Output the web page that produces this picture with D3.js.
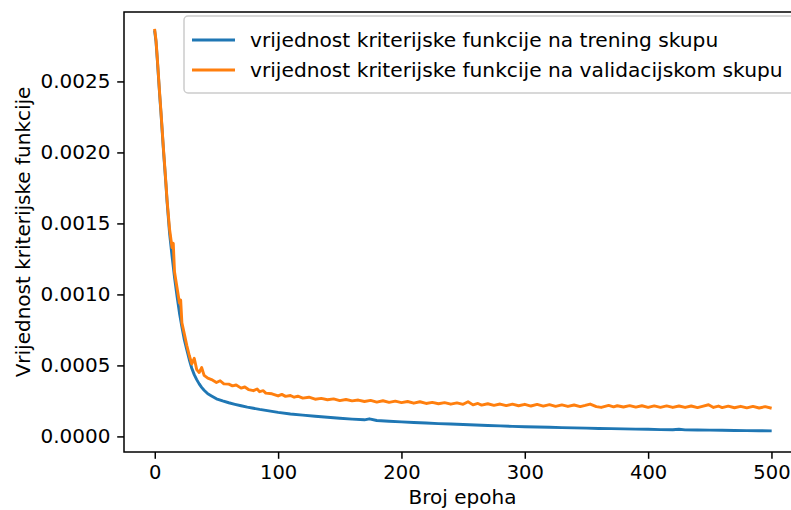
<!DOCTYPE html>
<html>
<head>
<meta charset="utf-8">
<script src="https://cdn.jsdelivr.net/npm/d3@7"></script>
<style>
  body { margin: 0; background: #fff; }
  svg { display: block; font-family: "DejaVu Sans", sans-serif; }
</style>
</head>
<body>
<svg width="791" height="510"></svg>
<script>
// Values (loss per epoch)
var trainEpochs = [0,1,2,3,4,5,6,7,8,9,10,12,14,16,18,20,22,24,26,28,30,32,34,36,38,40,43,46,50,55,60,65,70,75,80,85,90,95,100,110,120,130,140,150,160,170,174,180,190,200,210,220,230,240,250,260,270,280,290,300,310,320,330,340,350,360,370,380,390,400,410,420,425,430,440,450,460,470,480,490,499];
var trainLoss = [0.00285,0.00278,0.00266,0.00253,0.00240,0.00228,0.00215,0.00202,0.00190,0.00178,0.00165,0.00143,0.00127,0.00112,0.00099,0.00087,0.00077,0.00068,0.00061,0.00054,0.00048,0.000435,0.00040,0.00037,0.000345,0.000325,0.000300,0.000285,0.000265,0.000250,0.000237,0.000226,0.000216,0.000206,0.000198,0.000190,0.000183,0.000176,0.000169,0.000158,0.000150,0.000142,0.000135,0.000128,0.000122,0.000117,0.000124,0.000112,0.000107,0.000102,0.000098,0.000094,0.000090,0.000087,0.000084,0.000080,0.000077,0.000074,0.000071,0.000068,0.000066,0.000064,0.000062,0.000060,0.000058,0.000056,0.000055,0.000053,0.000051,0.000050,0.000048,0.000047,0.000050,0.000046,0.000045,0.000044,0.000043,0.000042,0.000041,0.000040,0.000039];

var valEpochs = [0,1,2,3,4,5,6,7,8,9,10,12,14,15,16,18,20,21,22,24,26,28,30,32,34,36,38,40,43,46,50,53,56,60,63,66,70,73,76,80,83,85,88,90,95,100,103,106,110,113,116,120,125,130,135,140,145,150,155,160,165,170,175,180,185,190,195,200,205,210,215,220,225,230,235,240,245,250,254,258,262,265,270,275,280,285,290,295,300,305,310,315,320,325,330,335,340,345,349,353,358,362,368,372,375,380,385,390,395,400,405,410,415,420,425,430,435,440,444,449,453,457,460,465,470,475,480,485,490,495,499];
var valLoss = [0.00286,0.00279,0.00267,0.00254,0.00241,0.00229,0.00216,0.00203,0.00191,0.00179,0.00166,0.00146,0.00133,0.00136,0.00116,0.00105,0.00094,0.00096,0.00080,0.00072,0.00064,0.00057,0.00051,0.00055,0.00047,0.00045,0.000485,0.00043,0.00041,0.000400,0.000380,0.000392,0.000370,0.000368,0.000356,0.000362,0.000340,0.000348,0.000330,0.000322,0.000334,0.000315,0.000322,0.000305,0.000300,0.000285,0.000296,0.000282,0.000288,0.000276,0.000283,0.000270,0.000276,0.000262,0.000268,0.000258,0.000264,0.000252,0.000260,0.000250,0.000256,0.000246,0.000254,0.000242,0.000251,0.000240,0.000248,0.000238,0.000246,0.000234,0.000244,0.000232,0.000240,0.000230,0.000238,0.000227,0.000236,0.000226,0.000244,0.000222,0.000232,0.000220,0.000230,0.000219,0.000228,0.000217,0.000227,0.000216,0.000226,0.000214,0.000225,0.000213,0.000224,0.000212,0.000222,0.000211,0.000221,0.000210,0.000218,0.000228,0.000210,0.000204,0.000218,0.000208,0.000216,0.000207,0.000217,0.000206,0.000216,0.000205,0.000215,0.000205,0.000215,0.000204,0.000214,0.000204,0.000214,0.000203,0.000212,0.000223,0.000204,0.000214,0.000203,0.000213,0.000202,0.000212,0.000201,0.000211,0.000200,0.000210,0.000201,0.000209];

var xTicks = [0, 100, 200, 300, 400, 500];
var yTicks = [0, 0.0005, 0.0010, 0.0015, 0.0020, 0.0025];
var seriesNames = ["vrijednost kriterijske funkcije na trening skupu",
                   "vrijednost kriterijske funkcije na validacijskom skupu"];
var seriesColors = ["#1f77b4", "#ff7f0e"];

var svg = d3.select("svg");
// plot area (right edge lies past the window, as in the reference)
var plotLeft = 124, plotRight = 801, plotTop = 12, plotBottom = 452;
var fontSize = 20;

var x = d3.scaleLinear().domain([-24.95, 523.95]).range([plotLeft, plotRight]);
var y = d3.scaleLinear().domain([-0.0001098, 0.002989]).range([plotBottom, plotTop]);

// Lines
var line = d3.line()
  .x(function(d) { return x(d[0]); })
  .y(function(d) { return y(d[1]); });

var series = [d3.zip(trainEpochs, trainLoss), d3.zip(valEpochs, valLoss)];

svg.append("g")
  .selectAll("path")
  .data(series)
  .enter()
  .append("path")
    .attr("d", line)
    .attr("fill", "none")
    .attr("stroke", function(d, i) { return seriesColors[i]; })
    .attr("stroke-width", 2.9)
    .attr("stroke-linejoin", "round")
    .attr("stroke-linecap", "square");

// Axes
var xAxis = svg.append("g")
  .attr("transform", "translate(0," + plotBottom + ")")
  .call(d3.axisBottom(x).tickValues(xTicks).tickSize(6.8).tickPadding(6.8).tickFormat(d3.format("d")));

var yAxis = svg.append("g")
  .attr("transform", "translate(" + plotLeft + ",0)")
  .call(d3.axisLeft(y).tickValues(yTicks).tickSize(6.8).tickPadding(6.8).tickFormat(d3.format(".4f")));

[xAxis, yAxis].forEach(function(a) {
  a.select(".domain").remove();
  a.selectAll("line").attr("stroke", "#000").attr("stroke-width", 1.5);
  a.selectAll("text")
    .attr("fill", "#000")
    .style("font-family", "DejaVu Sans");
});
xAxis.selectAll("text").style("font-size", "19.5px");
yAxis.selectAll("text").style("font-size", fontSize + "px");

// Frame
svg.append("rect")
  .attr("x", plotLeft).attr("y", plotTop)
  .attr("width", plotRight - plotLeft).attr("height", plotBottom - plotTop)
  .attr("fill", "none")
  .attr("stroke", "#000")
  .attr("stroke-width", 1.5);

// Axis labels
svg.append("text")
  .attr("x", (plotLeft + plotRight) / 2)
  .attr("y", 504)
  .attr("text-anchor", "middle")
  .style("font-size", fontSize + "px")
  .text("Broj epoha");

svg.append("text")
  .attr("transform", "translate(30," + ((plotTop + plotBottom) / 2) + ") rotate(-90)")
  .attr("text-anchor", "middle")
  .style("font-size", fontSize + "px")
  .text("Vrijednost kriterijske funkcije");

// Legend
var legend = svg.append("g");
legend.append("rect")
  .attr("x", 184).attr("y", 16)
  .attr("width", 610).attr("height", 77)
  .attr("rx", 4)
  .attr("fill", "#fff")
  .attr("fill-opacity", 0.8)
  .attr("stroke", "#ccc")
  .attr("stroke-width", 1.5);

var rows = legend.selectAll("g.row")
  .data(seriesNames)
  .enter()
  .append("g")
    .attr("class", "row")
    .attr("transform", function(d, i) { return "translate(0," + (40 + i * 30) + ")"; });

rows.append("line")
  .attr("x1", 192).attr("x2", 235)
  .attr("stroke", function(d, i) { return seriesColors[i]; })
  .attr("stroke-width", 2.9);

rows.append("text")
  .attr("x", 250)
  .attr("dy", "0.35em")
  .style("font-size", "20.2px")
  .text(function(d) { return d; });
</script>
</body>
</html>
